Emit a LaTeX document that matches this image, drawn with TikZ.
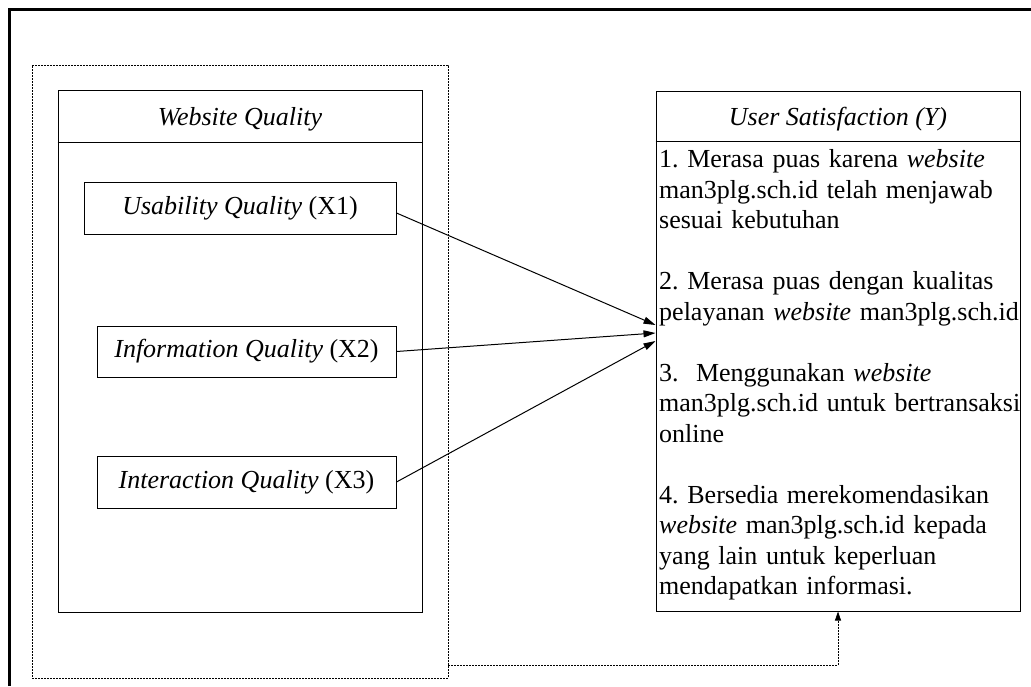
\documentclass[tikz,border=0pt]{standalone}
\usepackage{fontspec}
\setmainfont{Liberation Serif}
\usetikzlibrary{arrows.meta,calc}
\begin{document}
\frenchspacing
\begin{tikzpicture}[x=1pt,y=-1pt,
  every node/.style={font=\fontsize{26}{30.5}\selectfont},
  box/.style={draw,line width=1pt,inner sep=0pt},
  dotbox/.style={draw,line width=0.8pt,dash pattern=on 2pt off 1pt,inner sep=0pt},
  arr/.style={line width=1pt,-{Triangle[length=12pt,width=7pt]}},
  darr/.style={line width=0.8pt,dash pattern=on 2pt off 1pt,-{Triangle[length=9pt,width=6pt]}},
  frame/.style={line width=3pt}]
\useasboundingbox (0,0) rectangle (1031,686);
% outer frame (cropped)
\draw[frame] (9.7,686) -- (9.7,9) -- (1031,9);
% dotted enclosing box
\node[dotbox,minimum width=416pt,minimum height=613pt] (D) at (240,371.5) {};
% Website Quality box
\node[box,minimum width=364pt,minimum height=522pt] (WQ) at (240,351) {};
\draw[line width=1pt] ([yshift=-53pt]WQ.north west) -- ([yshift=-53pt]WQ.north east);
\node[anchor=base] (WQt) at (240,125) {\itshape Website Quality};
% indicator boxes
\node[box,minimum width=312pt,minimum height=52pt] (X1) at (240,208) {\textit{Usability Quality} (X1)};
\node[box,minimum width=299pt,minimum height=51pt] (X2) at (246.5,351.5) {\textit{Information Quality} (X2)};
\node[box,minimum width=299pt,minimum height=52pt] (X3) at (246.5,482) {\textit{Interaction Quality} (X3)};
% User Satisfaction box
\node[box,minimum width=364pt,minimum height=520pt] (Y) at (838,351) {};
\draw[line width=1pt] ([yshift=-51pt]Y.north west) -- ([yshift=-51pt]Y.north east);
\node[anchor=base] (Yt) at (838,125) {\itshape User Satisfaction (Y)};
\node[anchor=north west,inner sep=0pt,text width=420pt,align=left] (Ytext) at (659,149.5) {%
1. Merasa puas karena \textit{website}\\
man3plg.sch.id telah menjawab\\
sesuai kebutuhan\\[30.5pt]
2. Merasa puas dengan kualitas\\
pelayanan \textit{website} man3plg.sch.id\\[30.5pt]
3.\ \ Menggunakan \textit{website}\\
man3plg.sch.id untuk bertransaksi\\
online\\[30.5pt]
4. Bersedia merekomendasikan\\
\textit{website} man3plg.sch.id kepada\\
yang lain untuk keperluan\\
mendapatkan informasi.};
% arrows
\draw[arr] ([yshift=-5pt]X1.east) -- ([yshift=26pt]Y.west);
\draw[arr] (X2.east) -- ([yshift=18pt]Y.west);
\draw[arr] (X3.east) -- ([yshift=10pt]Y.west);
% dashed connector
\draw[darr] ($(D.south east)+(0,-13)$) -| (Y.south);
\end{tikzpicture}
\end{document}
